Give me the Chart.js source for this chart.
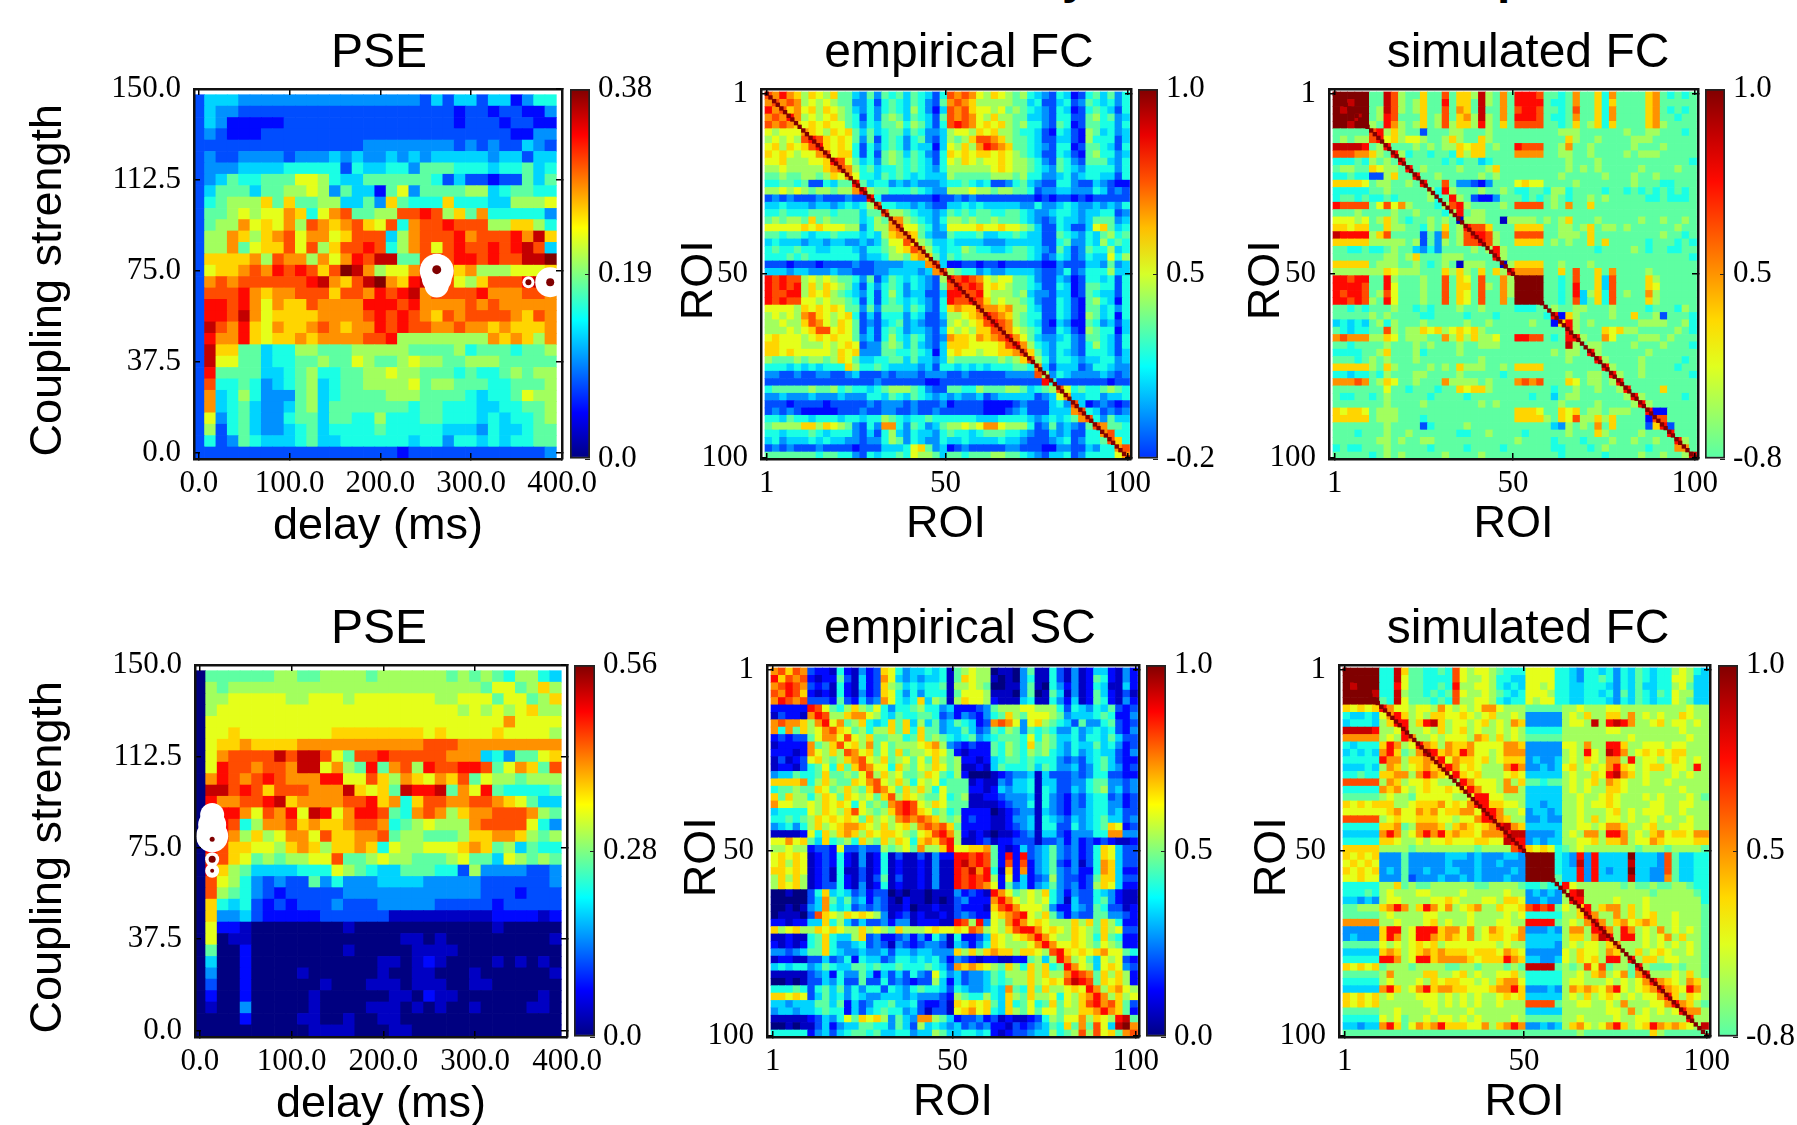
<!DOCTYPE html>
<html>
<head>
<meta charset="utf-8">
<title>PSE and connectivity matrices</title>
<script src="https://cdn.jsdelivr.net/npm/chart.js@4/dist/chart.umd.js"></script>
<style>
body { margin: 0; background: #fff; overflow: hidden; width: 1797px; height: 1125px; }
canvas { position: absolute; }
.clipped { position: absolute; top: -47px; font: bold 48px/48px "Liberation Sans"; color: #000; }
</style>
</head>
<body>
<span class="clipped" style="left: 1062px">y</span>
<span class="clipped" style="left: 1497px">p</span>
<script>
// axes of the PSE grids
const delays = [0, 12.5, 25, 37.5, 50, 62.5, 75, 87.5, 100, 112.5, 125, 137.5, 150, 162.5, 175, 187.5,
    200, 212.5, 225, 237.5, 250, 262.5, 275, 287.5, 300, 312.5, 325, 337.5, 350, 362.5, 375, 387.5];
const couplings = [145.3, 140.6, 135.9, 131.3, 126.6, 121.9, 117.2, 112.5, 107.8, 103.1, 98.4, 93.8, 89.1, 84.4, 79.7, 75,
    70.3, 65.6, 60.9, 56.3, 51.6, 46.9, 42.2, 37.5, 32.8, 28.1, 23.4, 18.8, 14.1, 9.4, 4.7, 0];
// matrices are read two ROIs at a time
const roiBlocks = [1.5, 3.5, 5.5, 7.5, 9.5, 11.5, 13.5, 15.5, 17.5, 19.5, 21.5, 23.5, 25.5, 27.5, 29.5, 31.5, 33.5, 35.5, 37.5, 39.5,
    41.5, 43.5, 45.5, 47.5, 49.5, 51.5, 53.5, 55.5, 57.5, 59.5, 61.5, 63.5, 65.5, 67.5, 69.5, 71.5, 73.5, 75.5, 77.5, 79.5,
    81.5, 83.5, 85.5, 87.5, 89.5, 91.5, 93.5, 95.5, 97.5, 99.5];
const rois = [1, 2, 3, 4, 5, 6, 7, 8, 9, 10, 11, 12, 13, 14, 15, 16, 17, 18, 19, 20, 21, 22, 23, 24, 25, 26, 27, 28, 29, 30, 31, 32, 33, 34,
    35, 36, 37, 38, 39, 40, 41, 42, 43, 44, 45, 46, 47, 48, 49, 50, 51, 52, 53, 54, 55, 56, 57, 58, 59, 60, 61, 62, 63, 64, 65, 66, 67, 68,
    69, 70, 71, 72, 73, 74, 75, 76, 77, 78, 79, 80, 81, 82, 83, 84, 85, 86, 87, 88, 89, 90, 91, 92, 93, 94, 95, 96, 97, 98, 99, 100];

const delayTicks = [0, 100, 200, 300, 400];
const couplingTicks = [0, 37.5, 75, 112.5, 150];
const roiTicks = [1, 50, 100];

// every cell is one hex digit: 0 = bottom of the jet colormap, f = top
const pseTop = [
    "35554444 44444444 44443535 53552466",
    "35443333 33333333 33333332 33233224",
    "35422222 33333333 33333332 33323322",
    "34322233 33333333 33333333 33332244",
    "33333333 33333334 44444443 43433543",
    "34334444 34445454 45454555 55455355",
    "34445555 66666365 56647776 66566756",
    "34576677 79986557 77777635 33233757",
    "35777577 88984755 27947777 88567766",
    "367888a7 a7788557 4a7666a6 66558889",
    "37789899 ba69bc77 88ccdc8a 7b666664",
    "3788b9a9 b8cbabca 9c6bccdc cc88aa86",
    "388ba8ab c9bb9acc c58bcccd bcccdbea",
    "388b79aa c9c8accd c68bc9cd ccdcdec5",
    "3aaaab8c bb8b9bdc ee77cdcd dcdcceef",
    "39aabcbd cdcacfeb 899bdfca b888999a",
    "3bcbcccc ccdebace fbadefc9 8acccdee",
    "3cccdbab bcccaccb dcdebccc cdbbbccb",
    "3ddcdb9b aacbbbbd ddcdbbbb cbcbbbbb",
    "3ddceb9a aaabbbbc dcdcbacb ccccbacb",
    "3ecbda9b aabcbabb dcdccbbc bbabaaab",
    "3dbbda9a ababbbbc cd888888 88baba8b",
    "3eaa7756 68877788 88877778 67776778",
    "3e997756 67787798 77898877 88877777",
    "3d777755 67866778 89887776 76678788",
    "3c667645 67856778 88897887 77667778",
    "3b568644 47856777 78887777 65667988",
    "3b567544 57857777 77767766 65566778",
    "39467544 67757766 86667766 65656678",
    "38367544 56756666 76666655 54655677",
    "36347655 56755666 66656646 65656677",
    "33333333 33333333 33233333 33333334"
];
const pseBottom = [
    "07777778 87788887 88888878 78768865",
    "08788888 88888888 88888888 879978a8",
    "08899999 88999899 99999889 9979978a",
    "08999999 99999999 99999998 98989a88",
    "09999999 99999999 99999999 999b9999",
    "099a9999 9999aaaa aaaa9a99 99a99998",
    "09aabaaa abbbbbbb bbbbcccb bbbbbbbb",
    "09bcccce ceec97cc dcccccbb b564779a",
    "09dccbcc bee9b87d 7bc8dccd dc79ba7c",
    "0bdcbcdc bbbdd99c a8ba9bac 79887888",
    "0eecdcac ccbbbea9 a7edde7b 9d766667",
    "0dbbccde abbbbccd ab6accbb ccba9755",
    "0dddb9cb d9ed9bdd c76bcb8a bbcccb87",
    "0ddc68bb cabaabcc b6789888 bcccc964",
    "0ddb8a89 bb9caabb c7887778 aabba878",
    "0dcaa998 aba8aaba 6988999a ba785766",
    "0cca9787 8899c778 98877789 77598787",
    "0da87555 56669876 55777663 84444334",
    "0c986434 33746444 55554444 43333334",
    "0c876432 33333444 44444444 43332333",
    "0a656323 23334333 44444333 33233333",
    "0a445322 22233333 31111111 11222212",
    "09221000 00000100 00000000 00100000",
    "09011000 00000000 00110100 00000001",
    "07002000 00000100 00011110 00000000",
    "05002000 00000000 11012100 00101010",
    "04002000 01000000 10011000 10000001",
    "03002000 00010001 11011100 11000000",
    "02002000 00100000 01102110 00000010",
    "01004000 00100001 11010100 10000110",
    "00002000 01100100 11000000 00000000",
    "00000000 00111100 01100000 00000000"
];
const empiricalFC = [
    "cbdba 8a98a 77547 47675 76536 cbcb9 8a987 86543 65236 75746",
    "bcbcb 89898 77446 36765 76437 bcba8 88887 75633 56347 65646",
    "dbcab 9a8a9 87546 46765 86425 cbca9 98978 76543 65236 76536",
    "bcbdb 8989a 87636 47875 76537 cbcb9 8a887 75543 66337 86745",
    "cbcba 9a9a9 97646 57786 87536 cdcb9 a9a87 86643 76237 76646",
    "98999 ba98a 9a757 56775 76445 8998a 9a887 66532 65328 75645",
    "89898 cdca9 a9747 36764 67435 878ac cba87 76533 55328 66635",
    "9a8a9 acda9 a9636 46764 65525 98a8b dcba7 76543 66237 76536",
    "a9a98 99bc9 aa636 37875 76436 a9a9a a9a98 76533 65327 86645",
    "99a88 899ad c9756 47876 76536 98a98 99a98 87643 76437 77546",
    "88988 888ab cb867 56676 76546 88888 89a98 87654 76546 66646",
    "77877 8878a 9b966 57676 56555 87777 78887 86644 56456 65536",
    "66776 73365 77d75 66454 54445 66765 63346 75433 66433 54322",
    "88989 87887 88bd8 77666 76544 88898 87887 76344 55444 65343",
    "34343 33433 3433d 63333 33323 34343 33333 33232 33232 33333",
    "55655 54554 56568 c6655 45433 55656 55555 44644 56544 54546",
    "66766 67776 77757 7c887 65545 76767 76677 65445 66545 56634",
    "78788 7a787 77756 87bb8 76546 88787 78777 65434 65545 77745",
    "99999 a9a99 98846 88bc9 97645 9999a 99a99 87533 65335 9a756",
    "77677 65667 66656 58abb a7544 76667 55667 65533 76546 57867",
    "56555 45545 54454 5799c a8755 65555 44455 55533 67446 58676",
    "67667 66556 66546 6789a cb865 66876 65567 76543 75347 66856",
    "66676 76666 66645 56887 aba75 76777 77777 76534 65346 55968",
    "33323 33233 33433 44445 55bc5 22332 33233 33322 43335 54745",
    "55545 54445 44333 44555 545bc 87664 54455 55433 46346 66855",
    "dcdcc 89898 77647 35765 65438 dcdcb 98997 76433 54236 65636",
    "dcdcd 8a8a9 87536 46764 65437 cdcdc 9a987 76533 65237 76636",
    "dccdd 8a9a8 76546 36864 55335 ddccd 98887 85443 55237 65536",
    "dcdcc 99898 87636 36765 65436 dccdc a8988 76433 65327 86526",
    "99998 a9a9a 97747 47775 76436 abaac bbab8 86533 65327 75646",
    "89898 bca98 9a635 36664 65335 889ab dcba8 76633 65328 75626",
    "88988 acb98 a9734 35674 54334 8989a cdcb8 76532 54227 64535",
    "88898 9acc9 a9735 36764 55435 9898a accb9 87633 65328 76625",
    "9a999 89a9a 99745 36865 76434 baa9b abcdb 97544 56437 76536",
    "aa999 88898 9a934 47875 75435 aaa99 99acd b8654 66436 86536",
    "aa9a9 99998 a9a44 47766 76525 9a998 99aab ca754 65436 66535",
    "87778 78878 a9755 66775 75545 87777 77878 ac864 66545 56645",
    "66656 56566 6a866 76555 54536 65656 56667 76b53 55534 66544",
    "44334 33443 34533 34344 43444 33433 33344 44c84 65444 45434",
    "33333 33333 33333 43333 33223 33333 33333 333d6 33333 33233",
    "67777 78778 67665 67888 76433 77668 77788 75678 c9676 67876",
    "44544 45444 54446 65765 76545 45445 34555 55345 9b556 64556",
    "33323 33323 33334 34443 43334 23333 22223 43335 64c52 34323",
    "34343 22222 33343 34433 43343 33333 22234 53335 55bc6 53434",
    "66576 65666 56656 68765 66766 66665 55666 65456 567bc 64755",
    "78888 aa8a9 87436 4bb64 76457 88989 bb988 86347 45437 cb776",
    "66566 67656 66435 36854 65546 76656 77766 54335 45336 6bc66",
    "56455 56565 54434 46874 65446 55655 55655 43334 56346 67ca6",
    "34343 33433 33233 35556 9a745 23433 33344 33322 44335 466bc",
    "77777 77677 66436 56676 98875 77677 78877 65435 56346 6669b"
];
const simulatedFCTop = [
    "fffff 77ec8 77a77 c7aa8 e87b7 dddc7 767b7 7a6b7 777ab 76767",
    "ffeff 77ec8 78a77 d7aa7 e87b7 dddd7 667b7 7a6a7 777ab 77777",
    "fefff 78ec8 78a77 c7ba7 e77b7 cddc7 767c7 7a6b7 777ab 76767",
    "fffef 78dc7 77a78 c7ab8 e87b7 dddc7 667b7 7a6b7 777ab 77677",
    "ffeff 87db8 78a78 c8aa8 d87a7 cccc7 767a7 8a6a7 777ab 87777",
    "77777 cd8a8 77377 78877 78777 77777 78887 77777 87788 77767",
    "78788 cd9a8 99877 8a877 a8777 77777 77a87 78777 78887 77777",
    "eeeed 78d77 78787 88a9a a7877 dccc7 78b77 87777 78777 87777",
    "cccbb a87d8 67767 76a8a a7777 bbbb7 78877 87777 87888 77777",
    "66676 8787d 77777 67677 56777 77777 77877 78777 77777 77776",
    "78877 a9887 d7877 77877 78a77 77777 77878 78777 77877 77877",
    "66766 338a7 7d778 77777 87877 77777 78777 77877 78778 77777",
    "aaaa9 78877 87d77 c7443 24777 9a997 77787 77777 78777 66777",
    "66666 77877 77786 d8777 87787 66776 88677 77677 67676 76767",
    "67767 66767 77786 7d873 22477 76767 87677 87877 77766 76667",
    "dcccc 79c9b 87776 8cd87 77787 cccc7 87b77 a7777 77777 77777",
    "77787 77787 78777 68d78 87777 77777 77777 77777 77777 77777",
    "99989 78a87 67787 87188 87718 88878 78a77 78777 77877 87787",
    "aa9aa 77a88 77687 a78dc ca777 aaaa7 78878 a7887 87777 77877",
    "edddd 8ac77 77374 b78cd dc877 cccc7 78887 a7777 77777 87767",
    "aaaaa 88888 78374 878cc dc877 aaaa7 87877 a7a77 77767 77676",
    "77667 66787 75464 77778 78d87 77777 77777 76777 78767 76677",
    "77777 77887 8a777 88877 77d87 77777 77777 77777 77777 77776",
    "aaaaa 78887 78767 87188 87718 aaaa7 78777 87777 77777 77777",
    "88888 88a98 88777 a8a87 a7a8d bbbb7 7a7c7 7a7b7 77787 77777",
    "ddcdd 77d87 77877 c7a97 c77b8 ffff7 767c7 7a5c7 777a8 77777",
    "ddddc 77d97 77877 c7aa7 c87b8 ffff7 767d7 7a5c7 777a9 77777",
    "dcddc 78c97 77877 c7a97 c77b8 ffff7 767d5 8a6c7 877b8 77777",
    "ddcdc 87d97 77877 c7a97 c77b7 ffff7 767c5 7a6c7 777a8 77777",
    "77676 77787 76767 77877 87777 66677 87788 77787 77767 77687",
    "77777 87877 77667 77767 77677 77776 d2a87 77787 7a778 37776",
    "56565 78687 77877 77787 78777 77877 2ad87 87777 77888 87786",
    "76566 77c87 88a9a 89a9a 87777 77777 77d87 77a9a 88777 77876",
    "bcbbb 88a97 88877 b8a8a 88977 ddcc7 67dd8 77b97 77888 78777",
    "77677 77877 78787 77877 88877 77777 77e87 88777 78777 87776",
    "66667 78a77 78677 77877 77777 77777 87887 d8777 77787 77777",
    "77767 87877 78777 77777 87777 77777 77877 7d877 77877 77767",
    "aaaaa 87a87 77787 87a88 87787 aaaa7 77777 77d87 77877 77677",
    "66566 76877 78877 77877 77767 77777 77877 887d8 77877 77776",
    "bbbcb 78a97 78777 b8888 78777 bcbc7 77a97 8878d 77777 77777",
    "77777 77977 67776 77a9a a8777 77777 67787 78778 d7777 a7777",
    "76677 67877 77767 77767 77777 77677 57887 77777 8d877 77767",
    "77777 77877 77877 77777 87877 77777 78777 78777 78d87 77777",
    "a9aa9 78887 77777 77777 77777 aaa97 7a9a7 88788 877d2 27777",
    "aaaaa 78887 77677 77777 77777 aaaa8 7a9c8 8a8a7 7772c c7777",
    "77777 77877 77367 77787 77777 77777 54878 7b7a7 7773a d3777",
    "77767 77877 87777 77667 78777 76777 77877 7a877 77877 7d777",
    "77777 78878 77887 77777 77777 87777 67776 77787 78778 77d87",
    "67667 77877 77767 77767 77767 77777 66777 67877 77767 77bb7",
    "77777 67878 77777 87777 87777 77777 76777 77677 77877 8778e"
];
const empiricalSC = [
    "bcacb 32216 21423 a9645 56561 78988 01104 71163 14125 52142",
    "dacbc 21227 31523 b9545 45561 7a988 10104 61163 14127 62142",
    "bcdcb 32316 21523 a8756 56671 88987 00114 71064 24126 51152",
    "cbdca 21216 21423 a9646 46661 79998 11104 70175 14127 52131",
    "bdcbc 33327 32534 b9656 a5871 8a998 21115 61164 25127 62142",
    "22222 dc976 8a879 64667 86645 22234 78889 98886 36546 57323",
    "13221 bdc88 abb98 65766 77634 24324 67a87 99987 45556 76224",
    "bcbba 8bd9b 78a65 6a7a5 85745 76523 bcb94 9a876 53744 67323",
    "b6b7a 89bca 97868 8a7a6 a7745 57534 76874 76764 46456 56324",
    "23233 79bb9 c98a7 78867 a7876 56745 67776 96875 56466 57533",
    "12222 b78ac 9a8b7 97888 9ab84 32322 76876 a7875 46557 56423",
    "22212 b98a8 cb9a7 97a78 89a97 21222 76876 87865 46456 55324",
    "13123 9a878 abc98 a7897 97a87 82212 56776 76664 34356 75322",
    "12213 6796a 7acb9 96a87 98a97 81121 57666 75764 45346 75423",
    "45576 67a77 879c8 a8977 8a976 82000 12344 51533 34346 63322",
    "aaaab 68a87 7a9bc 98a86 98967 77121 14355 61553 34467 74434",
    "67787 7a978 a87ac b97a8 a8697 77221 25455 61653 35467 84534",
    "a7a88 68a97 a9897 ac8a9 87796 78112 23444 51643 24356 63423",
    "b9988 98a9a 96978 7bcdc 98a97 77111 12344 61643 24356 64423",
    "56666 98a98 ac987 8acdc a9786 72222 01234 41543 24456 64533",
    "66767 8a9a9 a97a8 98bcb cba87 82322 11244 51654 35456 75534",
    "45646 8a89a bba98 a89a8 bcbca 72222 11234 51663 36456 7a923",
    "11112 96a8a ba8a9 aa987 9acdb 82121 01123 41553 24446 6bb44",
    "99b9a 75a67 86a87 a8a96 abacd 81123 12233 31334 24232 32112",
    "88988 23329 33433 87897 b88ad 99aab 72125 34574 34236 a9533",
    "9a9a9 12326 21412 61311 31422 ddcdc 72d2d 34574 34236 a9533",
    "9a8a9 12326 21412 61211 21411 decdc 72c2c 24573 24136 ba533",
    "aa9a9 12316 11312 61211 21411 dcebd 61a2b 24574 34226 ba522",
    "8a8a8 12316 21313 71311 21411 dcdcd 82925 23484 33237 aa533",
    "8a9a8 12336 21412 61211 21411 dcdcb 92745 24574 34238 a9522",
    "00100 36a56 53423 30101 10111 42321 db978 98a64 24336 54211",
    "00000 35b75 74524 31021 10101 34222 bdb98 98964 15336 74211",
    "00101 45b65 63434 31120 11211 32221 acdb9 99842 25437 63312",
    "01110 3ca98 a9a98 41231 21121 34322 9abcd 98a74 24337 74432",
    "22122 55a68 53533 42441 22211 dc8d4 98bdb 9a988 8a8a7 a8622",
    "a89a8 8a9a9 88a89 87a88 89a99 a9cb8 98acd db9a9 8a987 a8933",
    "11211 67a65 58a34 22342 42641 62235 a989a bdb98 8a986 a7622",
    "21212 67a64 45634 31432 34431 54246 a9888 9bdb9 9a987 98722",
    "44345 77a65 44544 53554 55444 a8a8a baa8a a98cd a9a9a b9976",
    "12211 33534 62655 34665 65642 43212 21122 7858d b8975 98932",
    "56566 45765 57767 66766 67653 baba9 87a86 a8a67 db985 9a943",
    "11111 34526 44752 53536 43964 53445 76888 a8a88 bdcb7 a8a82",
    "00101 33546 33733 63432 33852 53445 76788 a89a9 cedc7 a9a82",
    "66676 36757 46466 36546 76653 65445 65b76 a7a88 9a9db 8ab98",
    "aa9a9 35756 46544 55545 44432 87668 65a87 a8896 98abd b8a89",
    "55455 57757 25346 67556 32231 a9a9a 75a67 967a7 98acd bca73",
    "45545 56766 25356 76645 31331 9ab9a 65a87 97997 88aab dba72",
    "11111 23546 97a9a 84754 bb875 23342 31211 23687 99b8a 98de7",
    "00101 13524 55776 64753 85654 53434 22132 34576 a7b7c 95efb",
    "66666 24535 67767 55664 55875 56656 21233 45586 78c8c 9a7bc"
];
const simulatedFCBottom = [
    "fffff 66ea7 76676 c9899 87666 99996 65466 56465 76566 89865",
    "fffff 66e97 76666 c9889 86655 99996 65466 76465 76566 99855",
    "fefff 66d97 76676 d8899 86565 99896 65566 65465 75566 89755",
    "ffffe 66e87 76767 c9889 87656 99986 65566 56475 76576 98855",
    "fffff 76e97 77676 c8899 86566 98996 65566 65465 76566 98755",
    "a9a9a db998 998b9 8989b b9888 77777 88988 89988 88888 88988",
    "65565 9bda8 98aa9 9a989 a8898 44444 898a8 8aa8b 89898 8a988",
    "56665 8add8 adea8 9989a 898ba 44444 8998e 8dedb 889a8 99898",
    "eeeed 889d8 898a8 9a898 89898 66666 88888 89988 88888 89888",
    "bbbbb 898db 88989 998ba 8a898 77777 88888 88889 88888 88988",
    "65666 adb89 dba8b aab99 99bba 44444 998b8 8dda8 89998 99888",
    "56565 bda78 bedab adb99 89bbb 44444 898d9 8edb8 9a9a9 aa888",
    "66666 dbb8a abbd9 baa9a 89aaa 45445 898a9 8bb8d 89989 a9898",
    "55565 8ba89 ababd b9a98 88bdb 44545 9a898 9bda9 89aa8 998d8",
    "66766 aabb8 bdba9 da9a8 889a9 55555 8988a 9deba 89888 98988",
    "ccccc 8ba89 9a988 8db99 98b8a 77677 8989a 8ba98 89889 88888",
    "66666 bab98 9a99a 9adb9 98bb8 55555 89898 8aa98 88888 89888",
    "77777 89887 99999 889dd 99888 55555 88988 9a988 89898 88987",
    "a9a9a aa889 aaab9 a9bdd aa998 55455 88989 9a988 88998 89988",
    "99999 9ab99 bab9a abb9d db889 45545 88988 89a89 89998 89888",
    "ccccc 89a99 aaa99 899bd dba88 44544 8898a 89989 88989 88988",
    "66666 aab78 bbba8 aba9a bdeba 55555 88998 9bba8 89a88 89988",
    "55555 bdb89 bdbda baa9b bbdee 44445 898bb 8ddb8 98ab9 aa9bb",
    "66666 aa988 9899a 999aa 99edd 45455 8899a 8aab8 99ba9 999aa",
    "aaaaa 88887 88888 88878 888cd a9a96 78988 88888 78887 88887",
    "a9a9a 44474 44445 55454 44554 ffff6 54d4d 5555f 5554c 75566",
    "9a9a9 44474 44445 44454 45444 ffff6 54e4d 5555e 5554c 75566",
    "a9a9a 45474 45445 54454 44454 ffff6 55d4d 5455f 5544c 75566",
    "99a99 44473 44454 45454 44544 ffff7 55d4d 5555e 5544b 75566",
    "66666 88a78 77888 88877 88887 66766 d9888 88878 77877 88766",
    "66676 89888 99888 89888 88988 45454 8de88 88888 88788 88876",
    "55454 89988 8899a 98889 98aa9 44544 8dd88 88988 89888 88886",
    "77888 abdb8 adb9b 89ab8 8a99a cdcd7 98ad8 abb8a 89888 88887",
    "77777 89888 89988 88988 88989 66666 88adb 88b8a 89a88 98887",
    "bbbbb 88988 89a89 88988 89988 dddd7 898bd b8ab9 aba88 98887",
    "44444 add89 dddab b9b89 ba99b 44454 8bb8d db8db 898b8 98987",
    "45444 adb89 ddbab a9b89 aa9ab 55555 8aa8b ed8dd 8989b 8a887",
    "77777 98989 a9a89 99999 98988 55554 89899 8ab88 89898 98987",
    "55555 aba89 ababa aa9aa a9ba9 44444 98a99 8ba88 a89a9 88987",
    "66666 ddb89 ddabb bba9a aadba 55445 98a9a 8dd8d 8aa89 98887",
    "a9a9a 78887 88887 78878 88787 eeee7 878c9 c7887 d8777 87887",
    "77777 8b888 8aa88 9a898 899a8 66666 8898a b89b7 bd888 98a87",
    "66666 89888 98a9a a9989 8abb9 66666 89988 89898 9bdba 98ba8",
    "55555 bda89 bdabb aa999 abbda 44454 8baba 9bd98 9abdb a9db8",
    "a9a9a 89888 99989 89898 89a9a 55555 898a8 9a989 899bd a8a98",
    "a9a9a 88888 89989 89898 89888 cccc7 88998 898b8 8899b dba87",
    "77777 88988 88988 88988 88888 55555 88888 8998b 89898 9dbb8",
    "66666 98978 89899 89898 88898 77777 88988 88988 99888 88d88",
    "55455 bda79 babda aa99b 8abdb 44545 8ab98 9bda8 9adba ba98e",
    "77777 77777 77777 77777 77777 77777 77877 77777 77a87 77777"
];

// white sweep markers and their dark centres on the PSE grids
const pseTopMarkers = [{x: 262, y: 75, r: 17}, {x: 262, y: 72, r: 15}, {x: 262, y: 69, r: 12}, {x: 363, y: 70.3, r: 6}, {x: 387, y: 70.3, r: 15}];
const pseTopCentres = [{x: 262, y: 75.5, r: 4.5}, {x: 363, y: 70.3, r: 3}, {x: 387, y: 70.3, r: 4}];
const pseBottomMarkers = [{x: 13.3, y: 88.5, r: 12}, {x: 13.3, y: 84.5, r: 14}, {x: 13.3, y: 79.8, r: 16}, {x: 13.3, y: 70.3, r: 7}, {x: 13.3, y: 65.6, r: 7}];
const pseBottomCentres = [{x: 13.3, y: 78.5, r: 2.5}, {x: 13.3, y: 70.3, r: 3.5}, {x: 13.3, y: 65.6, r: 2}];

const serif = '"Liberation Serif"';
const sans = '"Liberation Sans"';

function jet(f) {
    const c = k => Math.round(255 * Math.min(1, Math.max(0, 1.5 - Math.abs(4 * f - k))));
    return 'rgb(' + c(3) + ',' + c(2) + ',' + c(1) + ')';
}

function cellsFrom(rows, xs, ys) {
    const pts = [];
    rows.forEach((row, i) => {
        row.replace(/ /g, '').split('').forEach((ch, j) => {
            pts.push({x: xs[j], y: ys[i], v: parseInt(ch, 16) / 15});
        });
    });
    return pts;
}

function cellRadius(step) {
    return ctx => {
        const sx = ctx.chart.scales.x;
        const side = Math.abs(sx.getPixelForValue(step) - sx.getPixelForValue(0));
        return (side + 0.7) / Math.SQRT2;
    };
}

function addCanvas(left, top, width, height) {
    const el = document.createElement('canvas');
    el.width = width;
    el.height = height;
    el.style.left = left + 'px';
    el.style.top = top + 'px';
    el.style.width = width + 'px';
    el.style.height = height + 'px';
    document.body.appendChild(el);
    return el;
}

function fixedTicks(values) {
    return scale => { scale.ticks = values.map(v => ({value: v})); };
}

function panelScales(p, rightGap) {
    const tickFont = {family: serif, size: 31};
    const inward = {drawOnChartArea: false, tickLength: -6, color: '#000', lineWidth: 1.5, z: 1};
    const frame = {color: '#111', width: 2.5, z: 1};
    return {
        x: {
            type: 'linear', position: 'bottom', min: p.xRange[0], max: p.xRange[1],
            afterBuildTicks: fixedTicks(p.xTicks),
            afterFit: s => { s.height = 100; },
            ticks: {autoSkip: false, maxRotation: 0, padding: 12, font: tickFont, color: '#000', callback: p.fmt},
            grid: inward, border: frame,
            title: {display: true, text: p.xTitle, color: '#000', font: {family: sans, size: 45, lineHeight: 1}, padding: {top: 0, bottom: p.xTitlePad}}
        },
        y: {
            type: 'linear', position: 'left', min: p.yRange[0], max: p.yRange[1], reverse: p.reverse,
            afterBuildTicks: fixedTicks(p.yTicks),
            afterFit: s => { s.width = p.box.l - p.left; },
            ticks: {autoSkip: false, padding: 19, font: tickFont, color: '#000', callback: p.fmt},
            grid: inward, border: frame,
            title: {display: true, text: p.yTitle, color: '#000', font: {family: sans, size: 45, lineHeight: 1}, padding: {top: p.yTitlePad, bottom: 0}}
        },
        xTop: {
            type: 'linear', position: 'top', min: p.xRange[0], max: p.xRange[1],
            afterBuildTicks: fixedTicks(p.xTicks),
            afterFit: s => { s.height = 0; },
            ticks: {display: false}, grid: inward, border: frame
        },
        yRight: {
            type: 'linear', position: 'right', min: p.yRange[0], max: p.yRange[1], reverse: p.reverse,
            afterBuildTicks: fixedTicks(p.yTicks),
            afterFit: s => { s.width = rightGap; },
            ticks: {display: false}, grid: inward, border: frame
        }
    };
}

function drawPanel(p) {
    const head = 59;
    const width = 2 * (p.titleCentre - p.left);
    const height = head + (p.box.b - p.box.t) + 100;
    const el = addCanvas(p.left, p.box.t - head, width, height);
    new Chart(el, {
        type: 'scatter',
        data: {datasets: p.datasets},
        options: {
            responsive: false,
            animation: false,
            events: [],
            devicePixelRatio: 1,
            layout: {autoPadding: false},
            elements: {point: {pointStyle: 'rect', borderWidth: 0, hoverRadius: 0}},
            plugins: {
                legend: {display: false},
                tooltip: {enabled: false},
                title: {display: true, text: p.title, color: '#000', font: {family: sans, size: 48, weight: 'normal', lineHeight: 1}, padding: {top: 0, bottom: 11}}
            },
            scales: panelScales(p, width - (p.box.r - p.left))
        }
    });
}

function drawColorbar(c) {
    // room above and below has to hold the end labels or the scale pulls itself in
    const pad = 45;
    const blank = {display: false};
    const el = addCanvas(c.l, c.t - pad, c.w + 85, c.b - c.t + 2 * pad);
    new Chart(el, {
        type: 'bar',
        data: {
            labels: [''],
            datasets: [{
                data: [[0, 1]],
                barPercentage: 1,
                categoryPercentage: 1,
                borderWidth: 2,
                borderColor: '#222',
                borderSkipped: false,
                backgroundColor: ctx => {
                    const area = ctx.chart.chartArea;
                    if (!area) return '#fff';
                    const g = ctx.chart.ctx.createLinearGradient(0, area.bottom, 0, area.top);
                    for (let i = 0; i <= 8; i++) {
                        g.addColorStop(i / 8, jet(c.low + (1 - c.low) * i / 8));
                    }
                    return g;
                }
            }]
        },
        options: {
            responsive: false,
            animation: false,
            events: [],
            devicePixelRatio: 1,
            layout: {autoPadding: false},
            plugins: {legend: {display: false}, tooltip: {enabled: false}},
            scales: {
                x: {
                    type: 'category', position: 'bottom', offset: true,
                    afterFit: s => { s.height = pad; },
                    ticks: blank, grid: blank, border: blank
                },
                xTop: {
                    type: 'category', position: 'top', labels: [''],
                    afterFit: s => { s.height = pad; },
                    ticks: blank, grid: blank, border: blank
                },
                y: {
                    type: 'linear', position: 'right', min: 0, max: 1,
                    afterBuildTicks: fixedTicks([0, 0.5, 1]),
                    afterFit: s => { s.width = 85; },
                    ticks: {autoSkip: false, padding: 13, color: '#000', font: {family: serif, size: 31},
                        callback: v => c.labels[v * 2]},
                    grid: {drawOnChartArea: false, tickLength: -5, color: '#222', z: 1},
                    border: {display: false}
                }
            }
        }
    });
}

function heatDataset(rows, xs, ys, step) {
    return {data: cellsFrom(rows, xs, ys), pointRadius: cellRadius(step), backgroundColor: ctx => jet(ctx.raw.v)};
}

function markerDataset(points, color) {
    return {data: points, pointStyle: 'circle', clip: false, pointRadius: ctx => ctx.raw.r, backgroundColor: color};
}

// the first dataset is painted last
function psePanel(box, rows, markers, centres) {
    return {
        box, left: 0, titleCentre: 379, title: 'PSE',
        xTitle: 'delay (ms)', yTitle: 'Coupling strength ', xTitlePad: 10, yTitlePad: 26,
        xRange: [-5.4, 400], yRange: [-2.6, 150], reverse: false,
        xTicks: delayTicks, yTicks: couplingTicks, fmt: v => v.toFixed(1),
        datasets: [
            markerDataset(centres, jet(1)),
            markerDataset(markers, '#fff'),
            heatDataset(rows, delays, couplings, 12.5)
        ]
    };
}

function roiPanel(box, left, titleCentre, title, rows, yTitlePad, withDiagonal) {
    const datasets = [heatDataset(rows, roiBlocks, roiBlocks, 2)];
    if (withDiagonal) {
        datasets.unshift({data: rois.map(r => ({x: r, y: r, v: 1})), pointRadius: cellRadius(1), backgroundColor: jet(1)});
    }
    return {
        box, left, titleCentre, title,
        xTitle: 'ROI', yTitle: 'ROI ', xTitlePad: 12, yTitlePad,
        xRange: [-0.6, 100.9], yRange: [-0.3, 100.4], reverse: true,
        xTicks: roiTicks, yTicks: roiTicks, fmt: v => String(v),
        datasets
    };
}

drawPanel(psePanel({l: 194, t: 89, r: 562, b: 459}, pseTop, pseTopMarkers, pseTopCentres));
drawPanel(roiPanel({l: 761, t: 89, r: 1131, b: 459}, 641, 959, 'empirical FC', empiricalFC, 36, true));
drawPanel(roiPanel({l: 1329, t: 89, r: 1698, b: 459}, 1209, 1528, 'simulated FC', simulatedFCTop, 35, true));
drawPanel(psePanel({l: 195, t: 665, r: 567, b: 1037}, pseBottom, pseBottomMarkers, pseBottomCentres));
drawPanel(roiPanel({l: 767, t: 665, r: 1139, b: 1037}, 647, 960, 'empirical SC', empiricalSC, 33, false));
drawPanel(roiPanel({l: 1339, t: 665, r: 1710, b: 1037}, 1219, 1528, 'simulated FC', simulatedFCBottom, 31, true));

drawColorbar({l: 570, t: 89, b: 459, w: 20, low: 0, labels: ['0.0', '0.19', '0.38']});
drawColorbar({l: 1138, t: 89, b: 459, w: 20, low: 0.17, labels: ['-0.2', '0.5', '1.0']});
drawColorbar({l: 1705, t: 89, b: 459, w: 20, low: 0.46, labels: ['-0.8', '0.5', '1.0']});
drawColorbar({l: 574, t: 665, b: 1037, w: 21, low: 0, labels: ['0.0', '0.28', '0.56']});
drawColorbar({l: 1146, t: 665, b: 1037, w: 20, low: 0, labels: ['0.0', '0.5', '1.0']});
drawColorbar({l: 1718, t: 665, b: 1037, w: 20, low: 0.46, labels: ['-0.8', '0.5', '1.0']});
</script>
</body>
</html>
